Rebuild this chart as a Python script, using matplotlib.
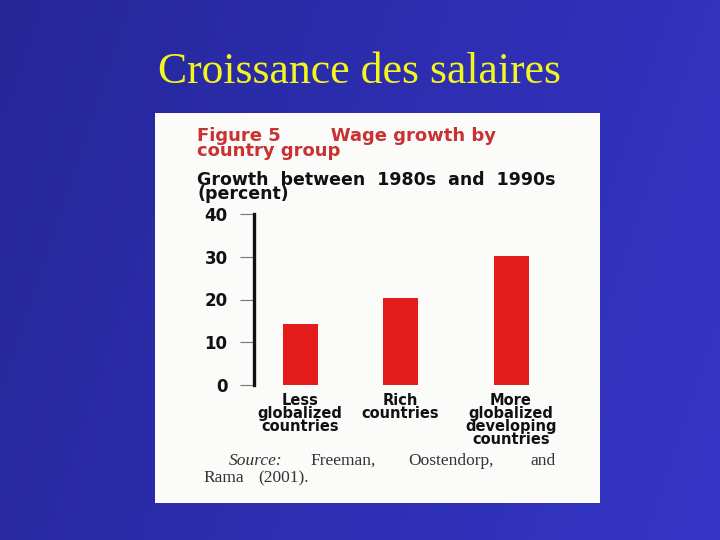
import numpy as np
import matplotlib
matplotlib.use('Agg')
import matplotlib.pyplot as plt
from matplotlib.patches import Rectangle

# data
groups = ['Less\nglobalized\ncountries', 'Rich\ncountries', 'More\nglobalized\ndeveloping\ncountries']
growth = [14.3, 20.3, 30.2]
yticks = [0, 10, 20, 30, 40]

W, H = 720, 540
fig = plt.figure(figsize=(7.2, 5.4), dpi=100)

# slide background, blue gradient
bg = fig.add_axes([0, 0, 1, 1])
gx = np.linspace(0, 1, 256)
gy = np.linspace(0, 1, 256)
GX, GY = np.meshgrid(gx, gy)
t = 0.8 * GX + 0.2 * GY
c0 = np.array([0x25, 0x27, 0x98]) / 255
c1 = np.array([0x35, 0x35, 0xc8]) / 255
img = c0[None, None, :] * (1 - t[..., None]) + c1[None, None, :] * t[..., None]
bg.imshow(img, extent=[0, 1, 0, 1], aspect='auto', origin='upper')
bg.set_xlim(0, 1)
bg.set_ylim(0, 1)
bg.axis('off')

def fx(px):
    return px / W

def fy(py):
    return 1 - py / H

fig.text(0.5, fy(72), 'Croissance des salaires', ha='center', va='center',
         family='Liberation Serif', fontsize=31.5, color='#f5f51e')

# scanned figure panel
fig.patches.append(Rectangle((fx(155), fy(503)), fx(600) - fx(155), fy(113) - fy(503),
                             transform=fig.transFigure, facecolor='#fbfbfa',
                             edgecolor='none', zorder=1))

# the scan uses a very wide face: extra spaces stand in for it
fig.text(fx(197), fy(156), 'Figure 5        Wage growth by\ncountry group', ha='left', va='baseline',
         fontsize=13, fontweight='bold', color='#c73232', linespacing=0.81, zorder=3)
fig.text(fx(197), fy(199), 'Growth  between  1980s  and  1990s\n(percent)', ha='left', va='baseline',
         fontsize=12.5, fontweight='bold', color='#111111', linespacing=0.74, zorder=3)

ax = fig.add_axes([fx(254), fy(385), fx(560) - fx(254), fy(214) - fy(385)])
ax.set_zorder(3)
ax.patch.set_visible(False)
xpos = [0, 1, 2.11]
ax.bar(xpos, growth, width=0.35, color='#e41c1c', zorder=2)
ax.set_xlim(-0.46, 2.6)
ax.set_ylim(0, 40)
for s in ['top', 'right', 'bottom']:
    ax.spines[s].set_visible(False)
ax.spines['left'].set_linewidth(2.4)
ax.spines['left'].set_color('#111111')
ax.set_yticks(yticks)
ax.set_yticklabels([str(v) for v in yticks], fontsize=12, fontweight='bold')
ax.tick_params(axis='y', length=10, width=0.8, color='#777777', pad=9, labelcolor='#111111')
ax.set_xticks(xpos)
ax.set_xticklabels(groups, fontsize=10.5, fontweight='bold', linespacing=0.82)
ax.tick_params(axis='x', length=0, pad=6, labelcolor='#111111')

src_kw = dict(family='Liberation Serif', fontsize=12.5, color='#333333',
              ha='left', va='baseline', zorder=3)
fig.text(fx(229), fy(465), 'Source:', style='italic', **src_kw)
for px, s in [(310, 'Freeman,'), (408, 'Oostendorp,'), (530, 'and')]:
    fig.text(fx(px), fy(465), s, **src_kw)
for px, s in [(203, 'Rama'), (258, '(2001).')]:
    fig.text(fx(px), fy(482), s, **src_kw)

fig.savefig('out.png', dpi=100)
